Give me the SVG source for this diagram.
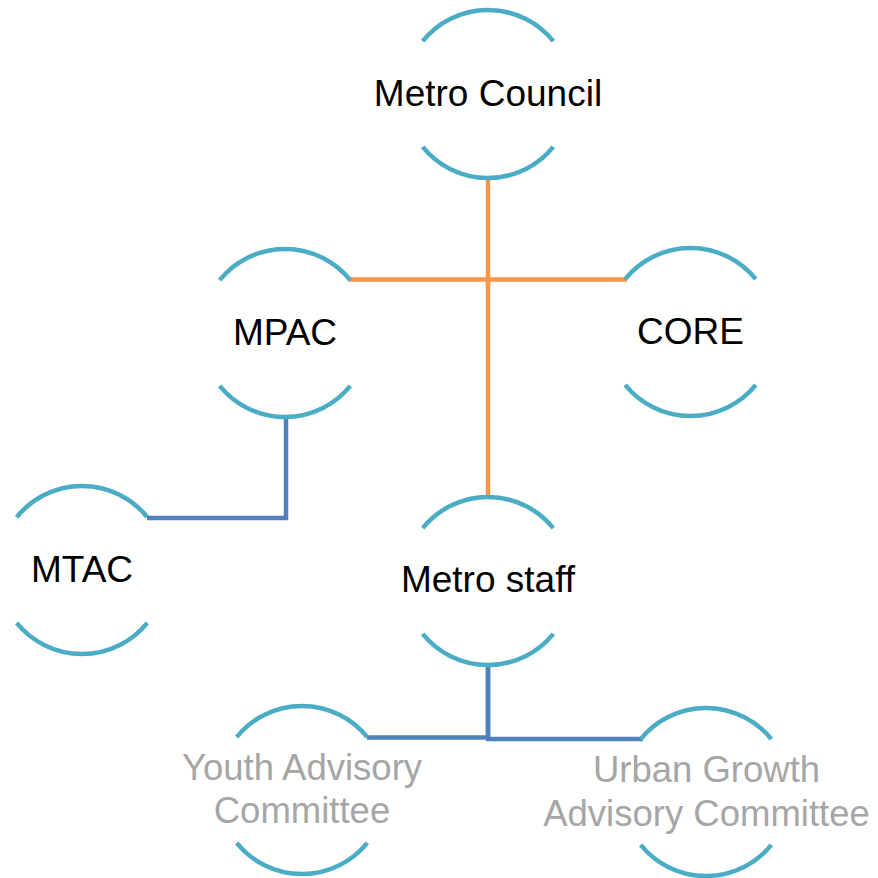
<svg xmlns="http://www.w3.org/2000/svg" xmlns:xlink="http://www.w3.org/1999/xlink" width="878" height="878" viewBox="0 0 878 878">
<style>
.ring{fill:none;stroke:#4BACC6;stroke-width:4.5}
.orange{fill:none;stroke:#F79646;stroke-width:4.5}
.blue{fill:none;stroke:#4F81BD;stroke-width:4.5}
.lbl{font-family:"Liberation Sans",Arial,sans-serif;font-size:37px;fill:#000;text-anchor:middle}
.lbl.gray{fill:#A6A6A6;font-size:36.5px}
</style>
<defs>
<g id="ring">
<path class="ring" d="M-65.3,-52.9 A84,84 0 0 1 65.3,-52.9"/>
<path class="ring" d="M-65.3,52.9 A84,84 0 0 0 65.3,52.9"/>
</g>
</defs>
<rect width="878" height="878" fill="#fff"/>
<g id="connectors">
<path class="orange" d="M488,178 V497"/>
<path class="orange" d="M349,279.5 H627"/>
<path class="blue" d="M147,518 H286 V417"/>
<path class="blue" d="M488,664 V737.5 H367"/>
<path class="blue" d="M488,664 V739 H643"/>
</g>
<g id="metro-council">
<use xlink:href="#ring" x="488" y="94"/>
<text class="lbl" x="488" y="106">Metro Council</text>
</g>
<g id="mpac">
<use xlink:href="#ring" x="285" y="333"/>
<text class="lbl" x="285" y="345">MPAC</text>
</g>
<g id="core">
<use xlink:href="#ring" x="690.5" y="332"/>
<text class="lbl" x="690.5" y="344">CORE</text>
</g>
<g id="mtac">
<use xlink:href="#ring" x="82" y="570"/>
<text class="lbl" x="82" y="582">MTAC</text>
</g>
<g id="metro-staff">
<use xlink:href="#ring" x="488" y="581"/>
<text class="lbl" x="488" y="592">Metro staff</text>
</g>
<g id="youth-advisory-committee">
<use xlink:href="#ring" x="302" y="790"/>
<text class="lbl gray" x="302" y="780">Youth Advisory</text>
<text class="lbl gray" x="302" y="823">Committee</text>
</g>
<g id="urban-growth-advisory-committee">
<use xlink:href="#ring" x="706" y="792"/>
<text class="lbl gray" x="706.5" y="782">Urban Growth</text>
<text class="lbl gray" x="706.5" y="826">Advisory Committee</text>
</g>
</svg>
